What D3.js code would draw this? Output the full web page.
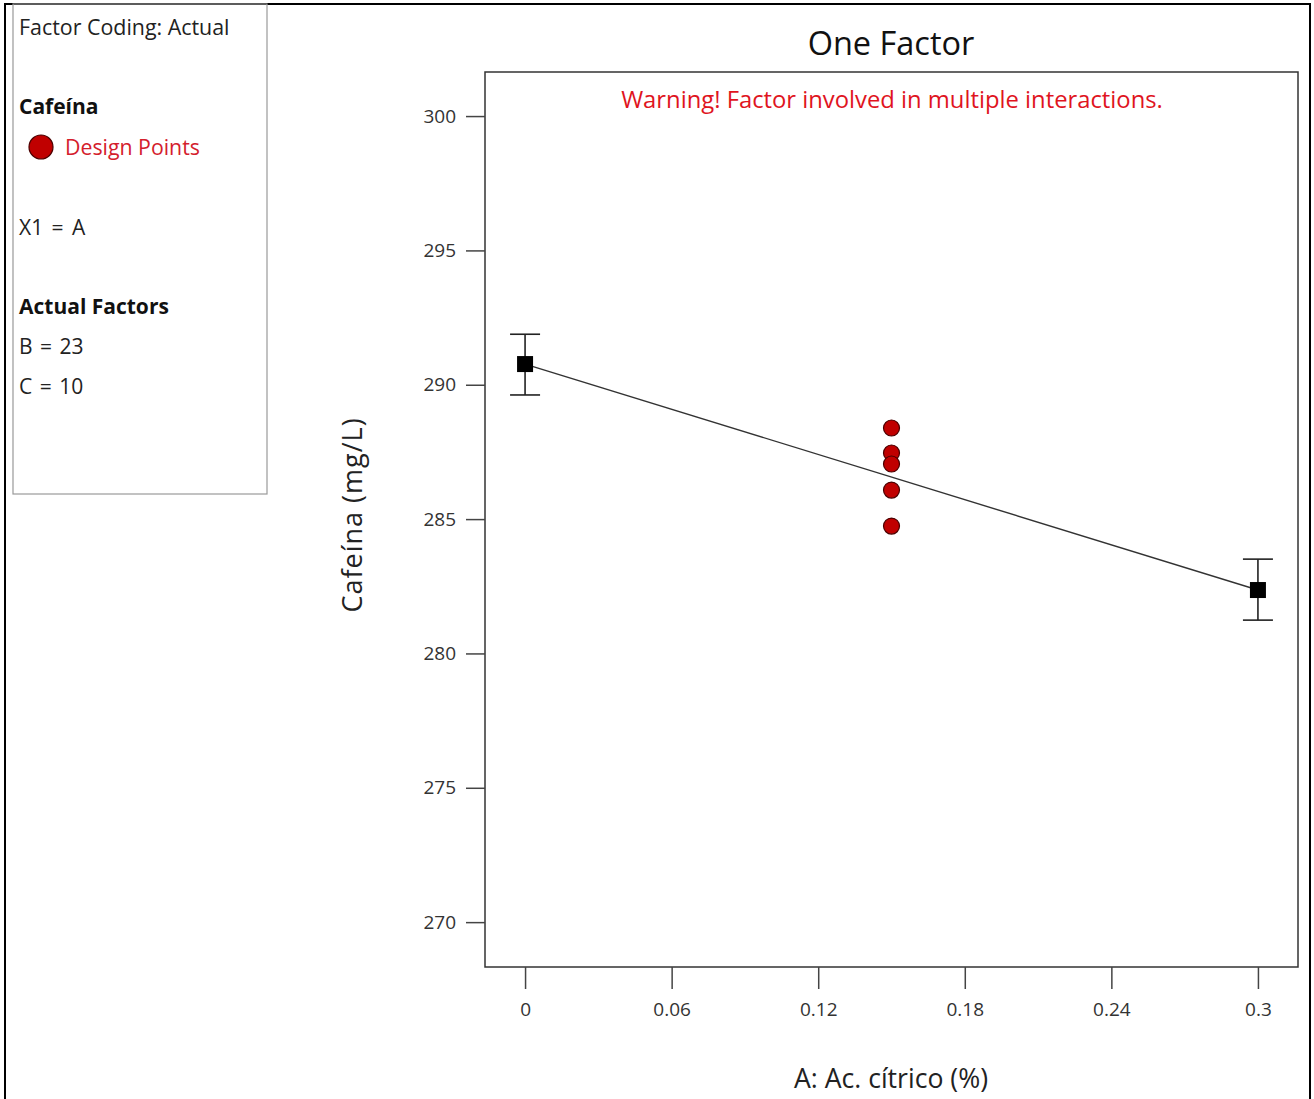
<!DOCTYPE html>
<html>
<head>
<meta charset="utf-8">
<script src="https://cdn.jsdelivr.net/npm/d3@7"></script>
<style>
  body { margin: 0; background: #fff; }
  text { font-family: "Open Sans", "Noto Sans", sans-serif; }
</style>
</head>
<body>
<div id="chart"></div>
<script>
// factor levels and predicted response (with error bar limits)
var levels = [0, 0.3];
var predicted = [290.77, 282.36];
var lower = [289.62, 281.24];
var upper = [291.88, 283.51];

// design points (runs at the centre point)
var designX = [0.15, 0.15, 0.15, 0.15, 0.15];
var designY = [288.39, 287.46, 287.05, 286.08, 284.74];

var xTicks = [0, 0.06, 0.12, 0.18, 0.24, 0.3];
var yTicks = [270, 275, 280, 285, 290, 295, 300];

var legendLines = ["Factor Coding: Actual", "Cafeína", "Design Points", "X1 = A", "Actual Factors", "B = 23", "C = 10"];

var W = 1314, H = 1099;
var plot = { left: 485, top: 72, right: 1298, bottom: 967 };

var svg = d3.select("#chart").append("svg")
    .attr("width", W)
    .attr("height", H);

// outer frame
svg.append("rect")
    .attr("x", 5).attr("y", 4)
    .attr("width", 1305).attr("height", 1100)
    .attr("fill", "none")
    .attr("stroke", "#000")
    .attr("stroke-width", 2);

// legend box
svg.append("rect")
    .attr("x", 13).attr("y", 4)
    .attr("width", 254).attr("height", 490)
    .attr("fill", "none")
    .attr("stroke", "#999")
    .attr("stroke-width", 1.2);

var leg = svg.append("g");
leg.append("text").attr("x", 19).attr("y", 35)
    .attr("font-size", 21.4).attr("fill", "#222").text(legendLines[0]);
leg.append("text").attr("x", 19).attr("y", 114)
    .attr("font-size", 21).attr("font-weight", "bold").attr("fill", "#111").text(legendLines[1]);
leg.append("circle").attr("cx", 41).attr("cy", 147).attr("r", 12)
    .attr("fill", "#c00000").attr("stroke", "#4a0000").attr("stroke-width", 1.2);
leg.append("text").attr("x", 65).attr("y", 155)
    .attr("font-size", 21.3).attr("fill", "#d4202c").text(legendLines[2]);
leg.append("text").attr("x", 19).attr("y", 235)
    .attr("font-size", 21).attr("fill", "#222").attr("word-spacing", 3).text(legendLines[3]);
leg.append("text").attr("x", 19).attr("y", 314)
    .attr("font-size", 21).attr("font-weight", "bold").attr("fill", "#111").text(legendLines[4]);
leg.append("text").attr("x", 19).attr("y", 354)
    .attr("font-size", 21).attr("fill", "#222").attr("word-spacing", 2).text(legendLines[5]);
leg.append("text").attr("x", 19).attr("y", 394)
    .attr("font-size", 21).attr("fill", "#222").attr("word-spacing", 2).text(legendLines[6]);

// scales
var x = d3.scaleLinear()
    .domain([-0.0164, 0.3164])
    .range([plot.left, plot.right]);
var y = d3.scaleLinear()
    .domain([268.33, 301.64])
    .range([plot.bottom, plot.top]);

// plot frame
svg.append("rect")
    .attr("x", plot.left).attr("y", plot.top)
    .attr("width", plot.right - plot.left)
    .attr("height", plot.bottom - plot.top)
    .attr("fill", "none")
    .attr("stroke", "#333")
    .attr("stroke-width", 1.5);

// axes
var xAxis = svg.append("g")
    .attr("transform", "translate(0," + plot.bottom + ")")
    .call(d3.axisBottom(x).tickValues(xTicks).tickSize(22).tickPadding(14)
        .tickFormat(function (d) { return String(+d.toFixed(2)); }));
var yAxis = svg.append("g")
    .attr("transform", "translate(" + plot.left + ",0)")
    .call(d3.axisLeft(y).tickValues(yTicks).tickSize(19).tickPadding(10));

[xAxis, yAxis].forEach(function (a) {
    a.select(".domain").remove();
    a.selectAll("line").attr("stroke", "#444").attr("stroke-width", 1.5);
    a.selectAll("text").attr("font-size", 19).attr("fill", "#333")
        .attr("font-family", "'Open Sans', sans-serif");
});

// title and labels
svg.append("text").attr("x", 891).attr("y", 55)
    .attr("text-anchor", "middle").attr("font-size", 32.5).attr("fill", "#111")
    .text("One Factor");
svg.append("text").attr("x", 892).attr("y", 108)
    .attr("text-anchor", "middle").attr("font-size", 23.8).attr("fill", "#e0141e")
    .text("Warning! Factor involved in multiple interactions.");
svg.append("text").attr("x", 891).attr("y", 1088)
    .attr("text-anchor", "middle").attr("font-size", 26.6).attr("fill", "#222")
    .text("A: Ac. cítrico (%)");
svg.append("text")
    .attr("transform", "translate(362,515) rotate(-90)")
    .attr("text-anchor", "middle").attr("font-size", 27).attr("fill", "#222")
    .attr("letter-spacing", 1)
    .text("Cafeína (mg/L)");

// prediction line
var pred = levels.map(function (d, i) { return { x: d, y: predicted[i], lo: lower[i], hi: upper[i] }; });
svg.append("path")
    .datum(pred)
    .attr("fill", "none")
    .attr("stroke", "#333")
    .attr("stroke-width", 1.4)
    .attr("d", d3.line().x(function (d) { return x(d.x); }).y(function (d) { return y(d.y); }));

// error bars
var eb = svg.selectAll(".eb").data(pred).enter().append("g").attr("class", "eb")
    .attr("stroke", "#222").attr("stroke-width", 1.6);
eb.append("line")
    .attr("x1", function (d) { return x(d.x); }).attr("x2", function (d) { return x(d.x); })
    .attr("y1", function (d) { return y(d.lo); }).attr("y2", function (d) { return y(d.hi); });
eb.append("line")
    .attr("x1", function (d) { return x(d.x) - 15; }).attr("x2", function (d) { return x(d.x) + 15; })
    .attr("y1", function (d) { return y(d.hi); }).attr("y2", function (d) { return y(d.hi); });
eb.append("line")
    .attr("x1", function (d) { return x(d.x) - 15; }).attr("x2", function (d) { return x(d.x) + 15; })
    .attr("y1", function (d) { return y(d.lo); }).attr("y2", function (d) { return y(d.lo); });

// squares at factor levels
svg.selectAll(".sq").data(pred).enter().append("rect").attr("class", "sq")
    .attr("x", function (d) { return x(d.x) - 8; })
    .attr("y", function (d) { return y(d.y) - 8; })
    .attr("width", 16).attr("height", 16)
    .attr("fill", "#000");

// design points
svg.selectAll(".dp").data(designY).enter().append("circle").attr("class", "dp")
    .attr("cx", function (d, i) { return x(designX[i]); })
    .attr("cy", function (d) { return y(d); })
    .attr("r", 8)
    .attr("fill", "#c00000")
    .attr("stroke", "#4a0000")
    .attr("stroke-width", 1.2);
</script>
</body>
</html>
